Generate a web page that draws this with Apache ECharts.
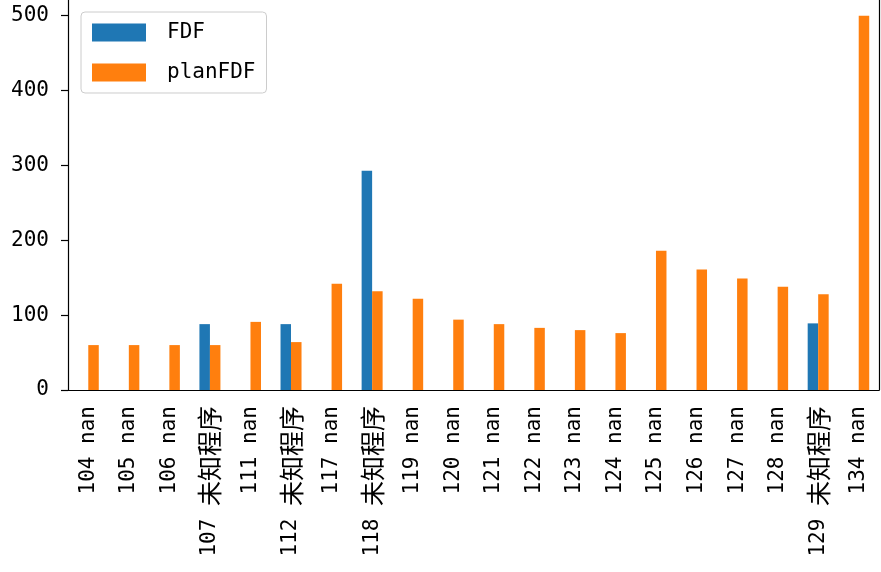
<!DOCTYPE html>
<html>
<head>
<meta charset="utf-8">
<script src="https://cdn.jsdelivr.net/npm/echarts@6/dist/echarts.min.js"></script>
<style>
html, body { margin: 0; padding: 0; background: #fff; }
#main { width: 881px; height: 572px; }
</style>
</head>
<body>
<div id="main"></div>
<script>
// categories and values
var categories = ['104 nan', '105 nan', '106 nan', '107 未知程序', '111 nan', '112 未知程序',
    '117 nan', '118 未知程序', '119 nan', '120 nan', '121 nan', '122 nan', '123 nan',
    '124 nan', '125 nan', '126 nan', '127 nan', '128 nan', '129 未知程序', '134 nan'];
var fdf = [null, null, null, 88, null, 88, null, 293, null, null, null, null, null,
    null, null, null, null, null, 89, null];
var planFdf = [60, 60, 60, 60, 91, 64, 142, 132, 122, 94, 88, 83, 80, 76, 186, 161, 149, 138, 128, 500];
var yTicks = [0, 100, 200, 300, 400, 500];

var font = '"DejaVu Sans Mono", "Noto Sans CJK SC", sans-serif';

// split "107 未知程序" so the CJK part can be drawn full width like SimHei
function catLabel(v) {
    var i = v.indexOf(' ');
    var head = v.slice(0, i + 1), tail = v.slice(i + 1);
    if (/[\u4e00-\u9fff]/.test(tail)) return '{n|' + head + '}{c|' + tail + '}';
    return '{n|' + v + '}';
}

var chart = echarts.init(document.getElementById('main'));
var option = {
    animation: false,
    color: ['#1f77b4', '#ff7f0e'],
    grid: { left: 68, right: 2, top: 0, bottom: 182, containLabel: false },
    legend: {
        orient: 'vertical',
        left: 81, top: 12,
        padding: [10, 11, 10, 11],
        itemWidth: 54, itemHeight: 18, itemGap: 19,
        borderColor: '#cccccc', borderWidth: 1, borderRadius: 4,
        backgroundColor: 'rgba(255,255,255,0.8)',
        icon: 'rect',
        textStyle: { fontFamily: font, fontSize: 21, color: '#000', padding: [0, 0, 0, 16] },
        data: ['FDF', 'planFDF']
    },
    xAxis: {
        type: 'category',
        data: categories,
        axisLine: { lineStyle: { color: '#000', width: 1.2 } },
        axisTick: { alignWithLabel: true, length: 7, lineStyle: { color: '#000', width: 1.2 } },
        axisLabel: {
            rotate: 90, margin: 16, interval: 0, color: '#000',
            formatter: catLabel,
            rich: {
                n: { fontFamily: font, fontSize: 21, color: '#000' },
                c: { fontFamily: '"Noto Sans CJK SC", sans-serif', fontSize: 25, color: '#000' }
            }
        }
    },
    yAxis: [{
        type: 'value',
        min: 0, max: 521, interval: 100,
        splitLine: { show: false },
        axisLine: { show: true, lineStyle: { color: '#000', width: 1.2 } },
        axisTick: { show: true, length: 7, lineStyle: { color: '#000', width: 1.2 } },
        axisLabel: {
            margin: 19, fontFamily: font, fontSize: 21, color: '#000', showMaxLabel: false,
            formatter: function (v) { return yTicks.indexOf(v) >= 0 ? String(v) : ''; }
        }
    }, {
        // right spine only
        type: 'value', position: 'right',
        min: 0, max: 521, interval: 100,
        splitLine: { show: false },
        axisLine: { show: true, lineStyle: { color: '#000', width: 1.2 } },
        axisTick: { show: false },
        axisLabel: { show: false }
    }],
    series: [
        { name: 'FDF', type: 'bar', data: fdf, barWidth: 10.5, barGap: '0%' },
        { name: 'planFDF', type: 'bar', data: planFdf, barWidth: 10.5, barGap: '0%' }
    ]
};
chart.setOption(option);
</script>
</body>
</html>
